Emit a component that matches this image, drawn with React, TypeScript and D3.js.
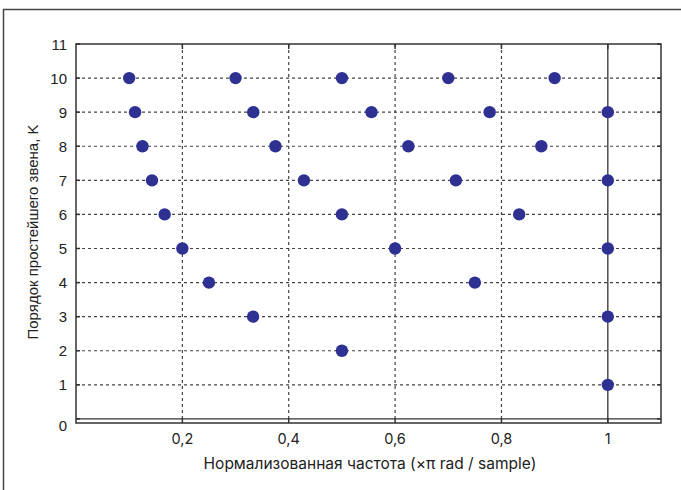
import React from "react";
import * as d3 from "d3";

// Orders of the elementary section K and the normalized frequencies of its points
const orders = [1, 2, 3, 3, 4, 4, 5, 5, 5, 6, 6, 6, 7, 7, 7, 7, 8, 8, 8, 8, 9, 9, 9, 9, 9, 10, 10, 10, 10, 10];
const freqs = [
  1.0,
  0.5,
  0.333, 1.0,
  0.25, 0.75,
  0.2, 0.6, 1.0,
  0.1667, 0.5, 0.8333,
  0.1429, 0.4286, 0.7143, 1.0,
  0.125, 0.375, 0.625, 0.875,
  0.1111, 0.3333, 0.5556, 0.7778, 1.0,
  0.1, 0.3, 0.5, 0.7, 0.9,
];
const xTicks = [0.2, 0.4, 0.6, 0.8, 1];
const xTickLabels = ["0,2", "0,4", "0,6", "0,8", "1"];
const yTicks = [0, 1, 2, 3, 4, 5, 6, 7, 8, 9, 10, 11];

const W = 681;
const H = 490;
const left = 76;
const right = 661;
const top = 44;
const bottom = 423;

export default function App() {
  const x = d3.scaleLinear().domain([0, 1.1]).range([left, right]);
  const y = d3.scaleLinear().domain([-0.12, 11]).range([bottom, top]);
  const axisColor = "#333";
  const gridColor = "#444";
  const dotColor = "#2e3192";

  return (
    <svg width={W} height={H} style={{ position: "absolute", left: 0, top: 0 }}>
      <rect x={0} y={0} width={W} height={H} fill="#fff" />
      {/* outer frame */}
      <rect x={3.5} y={9.5} width={W + 10} height={H + 10} fill="none" stroke="#444" strokeWidth={1.5} />

      {/* horizontal grid */}
      {yTicks.filter((t) => t > 0 && t < 11).map((t) => (
        <line key={"gy" + t} x1={left} x2={right} y1={y(t)} y2={y(t)} stroke={gridColor} strokeWidth={1.2} strokeDasharray="3,3" />
      ))}
      <line x1={left} x2={right} y1={y(0)} y2={y(0)} stroke={axisColor} strokeWidth={1.3} />
      {/* vertical grid */}
      {xTicks.filter((t) => t !== 1).map((t) => (
        <line key={"gx" + t} x1={x(t)} x2={x(t)} y1={top} y2={bottom} stroke={gridColor} strokeWidth={1.2} strokeDasharray="3,3" />
      ))}
      <line x1={x(1)} x2={x(1)} y1={top} y2={bottom} stroke={axisColor} strokeWidth={1.3} />

      {/* axes box */}
      <rect x={left} y={top} width={right - left} height={bottom - top} fill="none" stroke={axisColor} strokeWidth={1.5} />
      {yTicks.map((t) => (
        <g key={"ty" + t}>
          <line x1={left} x2={left + 4} y1={y(t)} y2={y(t)} stroke={axisColor} strokeWidth={1.5} />
          <line x1={right - 4} x2={right} y1={y(t)} y2={y(t)} stroke={axisColor} strokeWidth={1.5} />
          <text
            x={left - 9}
            y={t === 0 ? y(t) + 7 : y(t)}
            textAnchor="end"
            dominantBaseline="central"
            fontFamily="Liberation Sans, Arial, sans-serif"
            fontSize={15}
            fill="#222"
          >
            {t}
          </text>
        </g>
      ))}
      {xTicks.map((t, i) => (
        <g key={"tx" + t}>
          <line x1={x(t)} x2={x(t)} y1={bottom} y2={bottom - 5} stroke={axisColor} strokeWidth={1.5} />
          <line x1={x(t)} x2={x(t)} y1={top} y2={top + 5} stroke={axisColor} strokeWidth={1.5} />
          <text
            x={x(t)}
            y={bottom + 15}
            textAnchor="middle"
            dominantBaseline="central"
            fontFamily="Inter, Noto Sans, sans-serif"
            fontSize={14.5}
            fill="#222"
          >
            {xTickLabels[i]}
          </text>
        </g>
      ))}

      {/* points */}
      {freqs.map((f, i) => (
        <circle key={"p" + i} cx={x(f)} cy={y(orders[i])} r={6.2} fill={dotColor} />
      ))}

      {/* axis titles */}
      <text
        x={370}
        y={463}
        textAnchor="middle"
        dominantBaseline="central"
        fontFamily="Inter, Noto Sans, sans-serif"
        fontSize={15.5}
        fill="#222"
      >
        Нормализованная частота (×π rad / sample)
      </text>
      <text
        transform={`translate(32, 232) rotate(-90)`}
        textAnchor="middle"
        dominantBaseline="central"
        fontFamily="Liberation Sans, Arial, sans-serif"
        fontSize={15}
        fill="#222"
      >
        Порядок простейшего звена, K
      </text>
    </svg>
  );
}
